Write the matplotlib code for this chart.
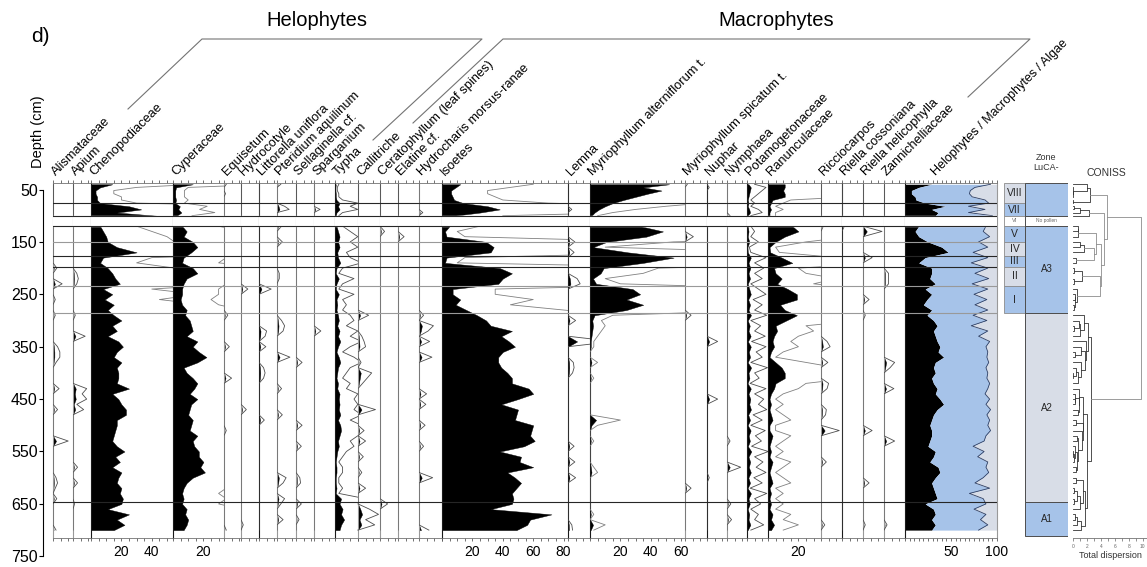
import numpy as np
import matplotlib.pyplot as plt
from matplotlib.patches import Rectangle
from matplotlib.ticker import FixedLocator, MultipleLocator, NullFormatter

plt.rcParams['font.family'] = ['Liberation Sans', 'DejaVu Sans']

# ---------------------------------------------------------
# 1. Sample depths (cm); a barren level separates both parts
# ---------------------------------------------------------
depth_top = [40, 46, 52, 58, 64, 70, 76, 82, 88, 94, 100]
depth_bot = [120, 130, 140, 150, 160, 170, 180, 190, 200, 210, 220, 230, 240,
             250, 260, 270, 280, 290, 300, 310, 320, 330, 340, 350, 360, 370,
             380, 390, 400, 410, 420, 430, 440, 450, 460, 470, 480, 490, 500,
             510, 520, 530, 540, 550, 560, 570, 580, 590, 600, 610, 620, 630,
             640, 650, 660, 670, 680, 690, 700]
depths = depth_top + depth_bot
N_TOP = len(depth_top)

no_pollen = (100.6, 119)
zone_lines = [76, 151, 176, 197, 235, 286, 647]
zone_line_dark = [True, False, True, True, False, False, True]

# ---------------------------------------------------------
# 2. Percentages, main taxa (one value per sample)
# ---------------------------------------------------------
chenopodiaceae = [14, 6, 3, 3, 4, 4, 6, 25, 33, 17, 43,
                  6, 8, 10, 11, 17, 30, 8, 6, 11, 14, 16, 19, 8, 14, 9, 15, 11, 15,
                  20, 14, 17, 11, 18, 21, 17, 15, 20, 17, 18, 18, 17, 25, 14, 18, 20,
                  23, 23, 17, 17, 16, 15, 14, 17, 22, 16, 19, 14, 20, 18, 17, 20, 19,
                  21, 20, 11, 25, 17, 22, 15]
cyperaceae = [13, 2, 1.5, 1.5, 1.5, 2, 1.5, 4.5, 3.5, 5.5, 2.5,
              6, 9, 7, 13, 16, 12, 7, 6, 13, 16, 9, 7, 6, 6, 5, 6, 9, 8, 11, 12,
              13, 9, 16, 13, 17, 22, 16, 7, 9, 13, 16, 14, 11, 16, 12, 11, 10, 13,
              12, 11, 16, 13, 14, 17, 17, 20, 18, 21, 13, 9, 7, 6, 7, 6, 9, 8, 10,
              9, 7]
typha = [0.5, 0.3, 0.3, 0.5, 0.5, 1, 3, 2, 3, 1, 0.5,
         1, 2, 3, 2, 3, 1.5, 2, 3.5, 1, 0.5, 2.5, 1, 0.5, 2.5, 1, 1.5, 1, 2, 2.5,
         1.5, 3, 2, 3.5, 2, 1, 2.5, 3.5, 2, 1.5, 1, 2, 1.5, 3, 2.5, 3, 2.5, 3.5, 2,
         3.5, 4, 3, 2, 2.5, 1.5, 1, 0.5, 1, 1, 0.5, 0.5, 1, 0.5, 4, 3, 5, 4, 6, 4, 3]
isoetes = [12, 9, 6, 6, 7, 8, 14, 30, 38, 25, 8,
           5, 2, 3, 29, 34, 32, 3, 2, 38, 46, 40, 37, 7, 7, 12, 9, 16, 23, 29, 32,
           46, 39, 44, 48, 40, 37, 37, 39, 43, 46, 46, 57, 60, 50, 39, 50, 49, 48,
           60, 59, 58, 61, 54, 38, 52, 51, 60, 43, 48, 52, 49, 46, 47, 46, 32, 72,
           58, 56, 49]
myrio_alt = [52, 35, 47, 38, 30, 22, 15, 10, 6, 3, 1,
             33, 48, 37, 11, 2, 25, 55, 35, 9, 7, 2, 4, 28, 33, 24, 35, 24, 3, 1.5,
             2, 1.5, 1, 0.5, 0.5, 0, 0, 1, 0, 0, 0.5, 0, 0, 0, 0, 0, 0, 0, 4, 1, 0,
             0, 0.5, 0, 0, 0, 0, 0.5, 1, 0, 0, 0, 0, 0, 0, 0, 0.5, 0, 2, 0.5]
potamogetonaceae = [1, 2.5, 2, 1.5, 1, 0.5, 1, 0.5, 1.5, 2, 0.5,
                    0.5, 1, 0.5, 1.5, 0.3, 0.5, 2.5, 1, 2.2, 1, 2, 0.5, 1.5, 2.5, 0.8,
                    2, 1, 2.6, 0.5, 1.8, 1, 2.4, 0.6, 2.5, 1.2, 2, 0.5, 2.7, 1, 1.6,
                    0.4, 2.5, 1, 2.2, 1.5, 2.6, 0.8, 2, 0.5, 2.4, 1.1, 1.9, 0.6, 2.8,
                    1, 2.1, 1.2, 2.5, 0.9, 2, 0.4, 2.6, 1, 1.8, 0.5, 1.5, 1, 2.2, 0.5]
ranunculaceae = [11, 11, 10, 11, 11, 3, 2, 1, 2, 1, 1,
                 16, 20, 11, 5, 1, 1.5, 9, 16, 4, 5, 9, 6, 13, 19, 19, 8, 11, 19, 12,
                 5, 6, 4, 3, 4, 2, 1, 5, 9, 11, 11, 5, 4, 2, 1, 2, 1, 2, 3, 1, 1, 3,
                 2, 1, 2, 1, 3, 2, 1, 2, 3, 1, 2, 1, 2, 1, 3, 2, 4, 2]

# ---------------------------------------------------------
# 3. Percentages, scarce taxa ({depth: value}, absent = 0)
# ---------------------------------------------------------
alismataceae = {200: 0.5, 230: 1.2, 260: 0.3, 290: 0.3, 350: 0.6, 360: 0.9, 370: 0.9,
                380: 0.4, 430: 0.8, 470: 0.6, 530: 2.0, 600: 0.4, 610: 0.6, 620: 0.3,
                640: 0.5, 700: 0.4}
apium = {210: 0.5, 220: 0.7, 230: 0.5, 290: 0.3, 330: 1.6, 430: 1.8, 440: 1.2,
         450: 1.8, 460: 0.5, 470: 1.4, 580: 0.6, 610: 0.6, 650: 0.2}
equisetum = {40: 0.3, 58: 0.2, 290: 0.5, 350: 0.7, 410: 1.0, 510: 0.3, 700: 0.3}
hydrocotyle = {240: 0.9, 470: 0.7, 690: 0.3}
littorella = {240: 1.6, 320: 1.0, 330: 0.8, 350: 0.9, 390: 0.6, 400: 0.8, 410: 0.6,
              490: 0.7}
pteridium = {40: 0.5, 82: 1.0, 88: 1.6, 120: 0.6, 150: 0.7, 210: 0.3, 220: 0.3,
             300: 0.6, 310: 1.0, 320: 0.8, 370: 1.7, 430: 0.6, 480: 0.7, 600: 1.2,
             610: 0.8, 640: 1.0, 650: 0.5, 680: 0.8}
sellaginella = {380: 0.8, 500: 0.8, 540: 0.7, 600: 0.5, 610: 0.6, 650: 0.7, 680: 0.4}
sparganium = {88: 0.8, 320: 0.9}
callitriche = {290: 1.4, 330: 0.5, 340: 0.8, 350: 1.0, 380: 0.4, 400: 1.8, 410: 1.2,
               420: 0.6, 470: 2.3, 510: 0.8, 530: 1.0, 560: 0.7, 590: 0.5, 620: 1.0,
               660: 1.5, 670: 2.7, 680: 1.0, 690: 2.2}
ceratophyllum = {130: 0.6, 650: 1.0}
elatine = {140: 0.8}
hydrocharis = {94: 0.5, 290: 0.6, 310: 1.9, 320: 1.2, 340: 1.4, 370: 1.7, 440: 1.0,
               460: 0.9, 500: 0.8, 540: 0.6, 600: 1.8, 700: 1.3}
lemna = {88: 0.5, 150: 0.9, 170: 0.8, 220: 1.2, 230: 1.6, 300: 1.0, 340: 6.0,
         380: 0.7, 390: 0.8, 400: 0.6, 540: 0.8, 570: 0.9, 600: 1.0, 690: 0.5,
         700: 0.6}
myrio_spic = {40: 0.3, 140: 1.1, 290: 0.8, 620: 0.8}
nuphar = {46: 0.3, 340: 1.4, 450: 1.4, 600: 0.3}
nymphaea = {100: 0.4, 530: 0.4, 580: 1.8, 650: 0.5, 680: 0.6}
ricciocarpos = {120: 0.3, 340: 0.8, 350: 1.2, 380: 0.9, 420: 1.0, 430: 0.8, 470: 0.7,
                480: 0.6, 510: 2.4, 570: 0.7, 690: 0.5}
riella_coss = {120: 0.3}
riella_heli = {130: 2.5, 180: 1.2, 260: 0.8, 290: 0.3, 510: 1.2, 610: 0.8, 690: 0.3}
zannichelliaceae = {210: 0.6, 220: 0.6, 230: 0.6, 380: 1.4, 390: 0.8, 430: 1.3,
                    530: 1.4, 690: 0.4}

# Helophytes (black) and helophytes + macrophytes (cumulative), rest = algae
helophytes = [29, 15, 7, 7, 11, 12, 22, 44, 29, 36, 33,
              15, 11, 15, 25, 40, 47, 22, 15, 29, 29, 27, 33, 22, 29, 24, 20, 29,
              24, 31, 35, 31, 33, 35, 38, 36, 42, 33, 31, 33, 29, 31, 35, 33, 38,
              42, 35, 31, 29, 27, 29, 29, 27, 25, 33, 31, 27, 36, 38, 33, 29, 31,
              33, 35, 22, 31, 33, 29, 33, 29]
helo_macro_cum = [93, 76, 71, 70, 73, 87, 91, 69, 87, 69, 95,
                  88, 85, 92, 80, 90, 74, 90, 72, 90, 76, 91, 73, 90, 75, 89, 76, 90,
                  74, 89, 72, 90, 80, 92, 88, 90, 89, 91, 88, 90, 89, 92, 90, 87, 92,
                  88, 93, 89, 92, 90, 93, 88, 86, 74, 86, 79, 90, 88, 91, 85, 76, 92,
                  70, 85, 88, 75, 88, 82, 90, 80]

# Zones
roman_names = ['VIII', 'VII', 'VI', 'V', 'IV', 'III', 'II', 'I']
roman_bounds = [38.5, 76, 100.6, 119, 151, 176, 197, 235, 286]
luca_names = ['', 'No pollen', 'A3', 'A2', 'A1']
luca_bounds = [38.5, 100.6, 119, 286, 647, 712]

# ---------------------------------------------------------
# 4. Layout (pixels of a 1147 x 567 figure)
# ---------------------------------------------------------
W, H = 1147, 567
BLUE = '#a6c3e9'
PALE = '#d8dde7'
PX_PER_PCT = 1.52
Y50, PX_PER_CM = 189.5, 0.524
PANEL_Y0, PANEL_Y1 = 183, 538
D_TOP = 50 + (PANEL_Y0 - Y50) / PX_PER_CM
D_BOT = 50 + (PANEL_Y1 - Y50) / PX_PER_CM
EXAG = 5
LABEL_SIZE = 9.3

# (label, data, left px, right px, dark zero line)
columns = [
    ("Alismataceae", alismataceae, 53, 73, False),
    ("Apium", apium, 73, 91, False),
    ("Chenopodiaceae", chenopodiaceae, 91, 173, True),
    ("Cyperaceae", cyperaceae, 173, 224, True),
    ("Equisetum", equisetum, 224, 241, False),
    ("Hydrocotyle", hydrocotyle, 241, 259, False),
    ("Littorella uniflora", littorella, 259, 277, True),
    ("Pteridium aquilinum", pteridium, 277, 296, False),
    ("Sellaginella cf.", sellaginella, 296, 314, False),
    ("Sparganium", sparganium, 314, 335, False),
    ("Typha", typha, 335, 358, True),
    ("Callitriche", callitriche, 358, 380, False),
    ("Ceratophyllum (leaf spines)", ceratophyllum, 380, 398, False),
    ("Elatine cf.", elatine, 398, 419, False),
    ("Hydrocharis morsus-ranae", hydrocharis, 419, 442, False),
    ("Isoetes", isoetes, 442, 568, True),
    ("Lemna", lemna, 568, 590, True),
    ("Myriophyllum alterniflorum t.", myrio_alt, 590, 685, True),
    ("Myriophyllum spicatum t.", myrio_spic, 685, 707, False),
    ("Nuphar", nuphar, 707, 727, True),
    ("Nymphaea", nymphaea, 727, 747, False),
    ("Potamogetonaceae", potamogetonaceae, 747, 768, True),
    ("Ranunculaceae", ranunculaceae, 768, 821, True),
    ("Ricciocarpos", ricciocarpos, 821, 842, False),
    ("Riella cossoniana", riella_coss, 842, 863, True),
    ("Riella helicophylla", riella_heli, 863, 884, False),
    ("Zannichelliaceae", zannichelliaceae, 884, 905, False),
]


def series(data):
    if isinstance(data, dict):
        return np.array([data.get(d, 0.0) for d in depths], dtype=float)
    return np.array(data, dtype=float)


def px_axes(x0, x1, y0, y1, **kw):
    return fig.add_axes([x0 / W, 1 - y1 / H, (x1 - x0) / W, (y1 - y0) / H], **kw)


def segments():
    return (slice(0, N_TOP), slice(N_TOP, None))


def add_zone_lines(ax):
    for d, dark in zip(zone_lines, zone_line_dark):
        ax.axhline(d, color='0.15' if dark else '0.6', lw=0.8, zorder=4)
    ax.axhspan(no_pollen[0], no_pollen[1], color='white', zorder=5)
    for d in no_pollen:
        ax.axhline(d, color='0.15', lw=0.8, zorder=6)


def style_percent_axis(ax, xmax, labels):
    ax.set_xlim(0, xmax)
    ax.set_ylim(D_BOT, D_TOP)
    ax.set_yticks([])
    ax.xaxis.set_major_locator(FixedLocator(labels))
    ax.xaxis.set_minor_locator(MultipleLocator(5))
    ax.xaxis.set_minor_formatter(NullFormatter())
    ax.tick_params(axis='x', which='both', top=True, bottom=True, direction='out',
                   length=2.5, width=0.6, color='0.35', labelsize=10, pad=2.5)
    ax.patch.set_alpha(0)
    for s in ('top', 'bottom'):
        ax.spines[s].set_color('0.45')
        ax.spines[s].set_linewidth(0.6)
    ax.spines['right'].set_visible(False)


fig = plt.figure(figsize=(W / 100, H / 100), dpi=100)

# overlay in pixel coordinates for titles, labels and group brackets
over = fig.add_axes([0, 0, 1, 1])
over.set_xlim(0, W)
over.set_ylim(H, 0)
over.axis('off')

all_series = []
for name, data, x0, x1, dark in columns:
    vals = series(data)
    all_series.append(vals)
    xmax = (x1 - x0) / PX_PER_PCT
    ax = px_axes(x0, x1, PANEL_Y0, PANEL_Y1)
    line_col = '0.5' if xmax > 30 else '0.3'
    for seg in segments():
        d = np.array(depths[seg])
        v = vals[seg]
        ax.fill_betweenx(d, 0, v, color='black', lw=0.3, zorder=2)
        ax.plot(v * EXAG, d, color=line_col, lw=0.6, zorder=3)
    style_percent_axis(ax, xmax, [v for v in (20, 40, 60, 80) if v <= xmax])
    ax.spines['left'].set_color('0.1' if dark else '0.6')
    ax.spines['left'].set_linewidth(0.8)
    add_zone_lines(ax)
    over.text(x0 + 3, 176, name, rotation=45, rotation_mode='anchor',
              ha='left', va='baseline', fontsize=LABEL_SIZE)

# Helophytes / Macrophytes / Algae summary
hel = np.array(helophytes, dtype=float)
cum = np.array(helo_macro_cum, dtype=float)
ax = px_axes(905, 997, PANEL_Y0, PANEL_Y1)
for seg in segments():
    d = np.array(depths[seg])
    ax.fill_betweenx(d, 0, hel[seg], color='black', lw=0, zorder=2)
    ax.fill_betweenx(d, hel[seg], cum[seg], color=BLUE, lw=0, zorder=2)
    ax.fill_betweenx(d, cum[seg], 100, color=PALE, lw=0, zorder=2)
    ax.plot(cum[seg], d, color='#2f3f63', lw=0.6, zorder=3)
style_percent_axis(ax, 100, [50, 100])
ax.spines['right'].set_visible(True)
ax.spines['right'].set_color('0.6')
ax.spines['left'].set_color('0.1')
add_zone_lines(ax)
over.text(936, 176, "Helophytes / Macrophytes / Algae", rotation=45,
          rotation_mode='anchor', ha='left', va='baseline', fontsize=LABEL_SIZE - 0.3)

# ---------------------------------------------------------
# 5. Depth axis
# ---------------------------------------------------------
axd = px_axes(43.3, 44, Y50, Y50 + 700 * PX_PER_CM)
axd.set_ylim(750, 50)
axd.set_xticks([])
axd.set_yticks([50, 150, 250, 350, 450, 550, 650, 750])
axd.tick_params(axis='y', length=3, width=0.8, labelsize=11.5, pad=1)
for s in ('top', 'right', 'bottom'):
    axd.spines[s].set_visible(False)
axd.spines['left'].set_linewidth(0.8)
axd.patch.set_alpha(0)
over.text(38, 132, "Depth (cm)", rotation=90, ha='center', va='center', fontsize=10.5)

# ---------------------------------------------------------
# 6. Zone column
# ---------------------------------------------------------
axz = px_axes(1004, 1068, PANEL_Y0, PANEL_Y1)
axz.set_xlim(0, 3)
axz.set_ylim(D_BOT, D_TOP)
axz.axis('off')
roman_cols = [PALE, BLUE, 'white', BLUE, PALE, BLUE, PALE, BLUE]
for i, name in enumerate(roman_names):
    top, bot = roman_bounds[i], roman_bounds[i + 1]
    axz.add_patch(Rectangle((0, top), 1, bot - top, facecolor=roman_cols[i],
                            edgecolor='0.55', lw=0.6))
    small = name == 'VI'
    axz.text(0.5, (top + bot) / 2, name, ha='center', va='center',
             fontsize=4 if small else 7.5, color='0.4' if small else '0.15')
luca_cols = [BLUE, 'white', BLUE, PALE, BLUE]
for i, name in enumerate(luca_names):
    top, bot = luca_bounds[i], luca_bounds[i + 1]
    axz.add_patch(Rectangle((1, top), 2, bot - top, facecolor=luca_cols[i],
                            edgecolor='0.3', lw=0.7))
    small = name == 'No pollen'
    axz.text(2, (top + bot) / 2, name, ha='center', va='center',
             fontsize=3.5 if small else 7, color='0.4' if small else '0.15')
over.text(1046, 172, "Zone\nLuCA-", ha='center', va='bottom', fontsize=6.5,
          linespacing=1.1, color='0.2')

# ---------------------------------------------------------
# 7. CONISS (stratigraphically constrained incremental sum of squares)
# ---------------------------------------------------------
X = np.sqrt(np.vstack(all_series).T / 100.0)


def within_ss(idx):
    sub = X[idx]
    return float(((sub - sub.mean(axis=0)) ** 2).sum())


groups = [[i] for i in range(len(depths))]
nodes = [(float(d), 0.0) for d in depths]
group_ss = [0.0] * len(depths)
links = []
total = 0.0
while len(groups) > 1:
    best = None
    for i in range(len(groups) - 1):
        merged = groups[i] + groups[i + 1]
        new_ss = within_ss(merged)
        inc = new_ss - group_ss[i] - group_ss[i + 1]
        if best is None or inc < best[0]:
            best = (inc, i, merged, new_ss)
    inc, i, merged, new_ss = best
    total += inc
    (ya, ha), (yb, hb) = nodes[i], nodes[i + 1]
    links.append((ya, ha, yb, hb, total))
    groups[i:i + 2] = [merged]
    group_ss[i:i + 2] = [new_ss]
    nodes[i:i + 2] = [((ya + yb) / 2, total)]

axc = px_axes(1073, 1147, PANEL_Y0, PANEL_Y1)
for ya, ha, yb, hb, h in links:
    col = '0.2' if h < total * 0.3 else '0.55'
    axc.plot([ha, h, h, hb], [ya, ya, yb, yb], color=col, lw=0.6)
axc.set_xlim(0, total / 0.92)
axc.set_ylim(D_BOT, D_TOP)
axc.set_yticks([])
axc.xaxis.set_major_locator(MultipleLocator(2))
axc.xaxis.set_minor_locator(MultipleLocator(1))
axc.tick_params(axis='x', which='both', length=2.5, width=0.5, labelsize=3.5, pad=1.5,
                color='0.4', labelcolor='0.4')
for s in ('top', 'right', 'left'):
    axc.spines[s].set_visible(False)
axc.spines['bottom'].set_color('0.45')
axc.spines['bottom'].set_linewidth(0.6)
axc.set_xlabel("Total dispersion", fontsize=6.5, labelpad=1.5, color='0.2')
axc.patch.set_alpha(0)
over.text(1106, 176, "CONISS", ha='center', va='baseline', fontsize=7.5, color='0.2')

# ---------------------------------------------------------
# 8. Group headers and brackets
# ---------------------------------------------------------
over.text(40, 36, "d)", ha='center', va='center', fontsize=15)
over.text(317, 21, "Helophytes", ha='center', va='center', fontsize=14.5)
over.text(776, 21, "Macrophytes", ha='center', va='center', fontsize=14.5)
over.plot([128, 202, 482, 373], [109, 39, 39, 140], color='0.45', lw=0.8)
over.plot([413, 503, 1030, 968], [123, 39, 39, 97], color='0.45', lw=0.8)

fig.savefig("out.png", dpi=100)
